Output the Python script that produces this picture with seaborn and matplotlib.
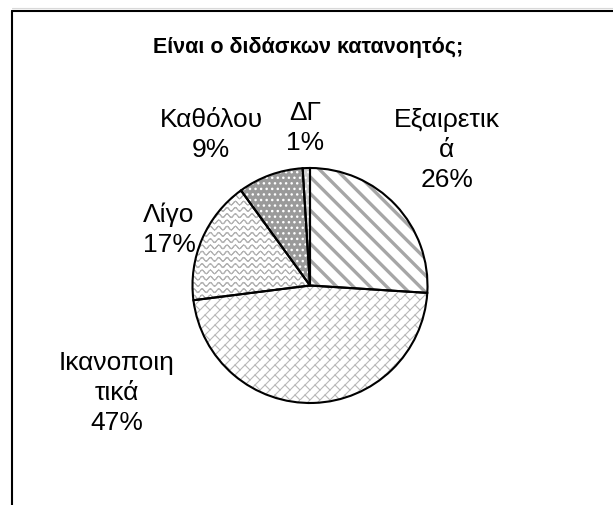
import warnings
import numpy as np
import matplotlib
matplotlib.use("Agg")
import matplotlib.pyplot as plt
import matplotlib.hatch as mhatch
from matplotlib.path import Path
from matplotlib.lines import Line2D
import seaborn as sns

warnings.filterwarnings("ignore")

# ---------------- data ----------------
title = "Είναι ο διδάσκων κατανοητός;"
categories = ["Εξαιρετικά", "Ικανοποιητικά", "Λίγο", "Καθόλου", "ΔΓ"]
label_names = ["Εξαιρετικ\nά", "Ικανοποιη\nτικά", "Λίγο", "Καθόλου", "ΔΓ"]
values = [26, 47, 17, 9, 1]

# ---------------- custom hatches ----------------
def _clip_seg(p0, p1):
    x0, y0 = p0
    x1, y1 = p1
    dx, dy = x1 - x0, y1 - y0
    t0, t1 = 0.0, 1.0
    for p, q in ((-dx, x0), (dx, 1 - x0), (-dy, y0), (dy, 1 - y0)):
        if p == 0:
            if q < 0:
                return None
        else:
            t = q / p
            if p < 0:
                t0 = max(t0, t)
            else:
                t1 = min(t1, t)
    if t1 - t0 < 1e-9:
        return None
    return (x0 + t0 * dx, y0 + t0 * dy), (x0 + t1 * dx, y0 + t1 * dy)


class _SegHatch(mhatch.HatchPatternBase):
    segs = []

    def set_vertices_and_codes(self, vertices, codes):
        for i, (a, b) in enumerate(self.segs):
            vertices[2 * i] = a
            vertices[2 * i + 1] = b
            codes[2 * i] = Path.MOVETO
            codes[2 * i + 1] = Path.LINETO


class BrickHatch(_SegHatch):
    def __init__(self, hatch, density):
        self.segs = []
        if "b" in hatch:
            n, m = 10, 5
            for k in range(-n, n + 1):
                v = k / n
                s = _clip_seg((-1.0, -1.0 + v), (2.0, 2.0 + v))
                if s:
                    self.segs.append(s)
            for k in range(-n - 1, n + 1):
                off = 0.5 * (k % 2)
                va, vb = k / n, (k + 1) / n
                for j in range(-3, 2 * m + 4):
                    u = (j + off) / m
                    p0 = ((u - va) / 2, (u + va) / 2)
                    p1 = ((u - vb) / 2, (u + vb) / 2)
                    s = _clip_seg(p0, p1)
                    if s:
                        self.segs.append(s)
        self.num_vertices = 2 * len(self.segs)


class WaveHatch(_SegHatch):
    def __init__(self, hatch, density):
        self.segs = []
        if "w" in hatch:
            nrows, nwaves, npts = 16, 12, 97
            xs = np.linspace(0, 1, npts)
            for r in range(nrows):
                y0 = (r + 0.5) / nrows
                ys = y0 + 0.018 * np.sin(2 * np.pi * nwaves * xs)
                for i in range(npts - 1):
                    self.segs.append(((xs[i], ys[i]), (xs[i + 1], ys[i + 1])))
        self.num_vertices = 2 * len(self.segs)


mhatch._hatch_types.extend([BrickHatch, WaveHatch])

# ---------------- style ----------------
sns.set_theme(style="white")
plt.rcParams["font.family"] = ["Liberation Sans", "DejaVu Sans"]

W, H = 613, 505
fig = plt.figure(figsize=(W / 100, H / 100), dpi=100)
fig.patch.set_facecolor("white")
ax = fig.add_axes([0, 0, 1, 1])

face_colors = ["white", "white", "white", "#9a9a9a", "#cfcfcf"]
hatch_colors = ["#a6a6a6", "#b8b8b8", "#b3b3b3", "white", "white"]
hatches = ["\\\\", "b", "w", "...", "..."]
hatch_lws = [2.4, 0.8, 0.8, 1.0, 1.0]

center = (310, H - 285.5)
radius = 117.5

wedges, _ = ax.pie(values, startangle=90, counterclock=False,
                   center=center, radius=radius,
                   wedgeprops=dict(linewidth=0))
for w, fc, hc, ht, hl in zip(wedges, face_colors, hatch_colors, hatches, hatch_lws):
    w.set_facecolor(fc)
    w.set_edgecolor(hc)
    w.set_hatch(ht)
    if hasattr(w, "set_hatch_linewidth"):
        w.set_hatch_linewidth(hl)
    else:
        w._hatch_linewidth = hl

# outlines
ax.pie(values, startangle=90, counterclock=False, center=center, radius=radius,
       wedgeprops=dict(facecolor="none", edgecolor="black", linewidth=1.5))

ax.set_xlim(0, W)
ax.set_ylim(0, H)
ax.set_aspect("auto")
ax.axis("off")

# labels
label_pos = [(447, H - 150), (117, H - 393), (169, H - 230), (211, H - 135), (305, H - 128)]
for name, v, (x, y) in zip(label_names, values, label_pos):
    ax.text(x, y, f"{name}\n{v}%", ha="center", va="center", fontsize=19,
            color="black", linespacing=1.3)

ax.text(308, H - 47, title, ha="center", va="center", fontsize=15.5,
        fontweight="bold", color="black")

# chart border (partially visible)
fig.add_artist(Line2D([11.5 / W, 1], [1 - 8 / H, 1 - 8 / H], color="#d9d9d9", lw=0.8))
fig.add_artist(Line2D([11.5 / W, 1], [1 - 10.5 / H, 1 - 10.5 / H], color="black", lw=1.5))
fig.add_artist(Line2D([11.5 / W, 11.5 / W], [0, 1 - 10.5 / H], color="black", lw=1.5))

fig.savefig("out.png", dpi=100)
